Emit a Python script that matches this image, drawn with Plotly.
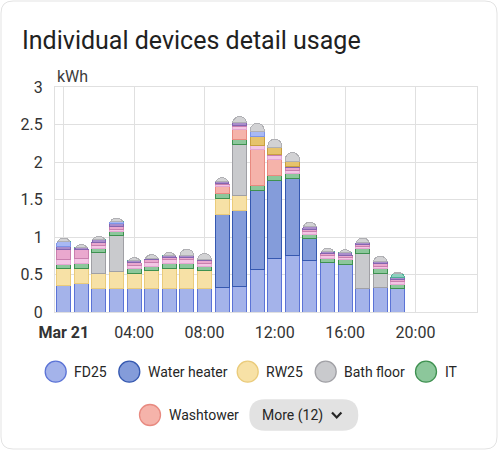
import plotly.graph_objects as go

# ---------------- data ----------------
hours = list(range(20))
tick_vals = [0, 4, 8, 12, 16, 20]
tick_text = ["<b>Mar 21</b>", "04:00", "08:00", "12:00", "16:00", "20:00"]
y_tick_vals = [0, 0.5, 1, 1.5, 2, 2.5, 3]
y_tick_text = ["0", "0.5", "1", "1.5", "2", "2.5", "3"]

fd25 = [0.355, 0.377, 0.32, 0.32, 0.31, 0.32, 0.32, 0.32, 0.31, 0.33,
        0.34, 0.57, 0.72, 0.76, 0.69, 0.665, 0.64, 0.31, 0.33, 0.31]
water_heater = [0, 0, 0, 0, 0, 0, 0, 0, 0, 0.97,
                1.02, 1.045, 1.03, 1.025, 0.284, 0, 0, 0, 0, 0]
rw25 = [0.222, 0.209, 0.20, 0.222, 0.21, 0.23, 0.266, 0.266, 0.24, 0.209,
        0.187, 0, 0, 0, 0, 0, 0, 0, 0, 0]
bath_floor = [0, 0, 0.275, 0.475, 0, 0, 0, 0, 0, 0,
              0.69, 0, 0, 0, 0, 0, 0, 0.476, 0.19, 0]
it = [0.063, 0.067, 0.058, 0.058, 0.066, 0.06, 0.067, 0.067, 0.06, 0.071,
      0.066, 0.067, 0.068, 0.067, 0.058, 0.053, 0.058, 0.057, 0.058, 0.053]
washtower = [0, 0, 0, 0, 0, 0, 0, 0, 0, 0.089,
             0.134, 0.489, 0.222, 0, 0, 0, 0, 0, 0, 0]
# hidden "More (12)" devices
dev_lpink = [0.066, 0.067, 0.03, 0.03, 0.04, 0.05, 0.047, 0.047, 0.043, 0.03,
             0.035, 0.05, 0.045, 0.04, 0.035, 0.035, 0.035, 0.03, 0.035, 0.04]
dev_mauve = [0.134, 0.12, 0.05, 0.04, 0.03, 0.04, 0.033, 0.03, 0.031, 0.02,
             0.02, 0, 0.02, 0.03, 0.03, 0.025, 0.025, 0.03, 0.03, 0.025]
dev_purple = [0.035, 0.026, 0.03, 0.04, 0.03, 0.02, 0.02, 0.02, 0.022, 0.025,
              0.03, 0, 0, 0.02, 0.04, 0.03, 0.03, 0.03, 0.03, 0.03]
dev_gold = [0, 0, 0, 0, 0, 0, 0, 0, 0, 0,
            0, 0.12, 0.09, 0.06, 0, 0, 0, 0, 0, 0]
dev_lblue = [0.065, 0, 0, 0.02, 0, 0, 0, 0, 0, 0,
             0, 0.06, 0, 0, 0, 0, 0, 0, 0, 0]
dev_teal = [0, 0, 0, 0, 0, 0, 0, 0, 0, 0,
            0, 0, 0, 0, 0, 0, 0, 0, 0, 0.05]
dev_gray = [0.046, 0.035, 0.047, 0.048, 0.04, 0.044, 0.042, 0.09, 0.071, 0.045,
            0.084, 0.115, 0.11, 0.125, 0.06, 0.043, 0.043, 0.053, 0.069, 0.024]

series = [
    ("FD25", fd25, "#A4B3EA", "#5B73D6"),
    ("Water heater", water_heater, "#849CDA", "#3558B0"),
    ("RW25", rw25, "#F7E1A6", "#EACB7A"),
    ("Bath floor", bath_floor, "#C9CACD", "#A0A0A5"),
    ("IT", it, "#8CC79B", "#3E9150"),
    ("Washtower", washtower, "#F5B3AA", "#E88A80"),
    ("Device 7", dev_lpink, "#F3C6E4", "#E4A6D2"),
    ("Device 8", dev_mauve, "#EAA8CE", "#C97FAE"),
    ("Device 9", dev_purple, "#A98DCB", "#8466B0"),
    ("Device 10", dev_gold, "#E6C36C", "#C9A040"),
    ("Device 11", dev_lblue, "#A8B9F4", "#7D94E8"),
    ("Device 12", dev_teal, "#8ED0BF", "#4FAE97"),
    ("Device 13", dev_gray, "#D2D2D4", "#B0B0B4"),
]

W, H = 498, 450
L, R, T, B = 55, 21, 87, 138
PW, PH = W - L - R, H - T - B

def px(x):
    return (x - L) / PW

def py(y):
    return (H - B - y) / PH

fig = go.Figure()
for name, vals, fill, line in series:
    fig.add_trace(go.Bar(
        x=hours, y=vals, name=name, width=0.8,
        marker=dict(color=fill, line=dict(color=line, width=1)),
        showlegend=False, hoverinfo="skip",
    ))

font = "Roboto, sans-serif"
shapes = []
annotations = []

# card border
r = 12
x0, y0, x1, y1 = 1, 1, 497, 449
card = (f"M {px(x0+r)},{py(y0)} L {px(x1-r)},{py(y0)} Q {px(x1)},{py(y0)} {px(x1)},{py(y0+r)} "
        f"L {px(x1)},{py(y1-r)} Q {px(x1)},{py(y1)} {px(x1-r)},{py(y1)} "
        f"L {px(x0+r)},{py(y1)} Q {px(x0)},{py(y1)} {px(x0)},{py(y1-r)} "
        f"L {px(x0)},{py(y0+r)} Q {px(x0)},{py(y0)} {px(x0+r)},{py(y0)} Z")
shapes.append(dict(type="path", xref="paper", yref="paper", path=card,
                   line=dict(color="#E3E3E3", width=1), layer="below"))

# title
annotations.append(dict(text="Individual devices detail usage", xref="paper", yref="paper",
                        x=px(20), y=py(40), xanchor="left", yanchor="middle", showarrow=False,
                        font=dict(family=font, size=25, color="#212121")))
# unit
annotations.append(dict(text="kWh", xref="paper", yref="paper",
                        x=px(55), y=py(76.5), xanchor="left", yanchor="middle", showarrow=False,
                        font=dict(family=font, size=16, color="#3c3c3c")))

# legend (manual)
legend_items = [
    (0, 55.7, 371.7), (1, 129.3, 371.7), (2, 247.7, 371.7), (3, 325.7, 371.7),
    (4, 426, 371.7), (5, 150, 415),
]
rad = 10.5
for idx, cx, cy in legend_items:
    name, _, fill, line = series[idx]
    shapes.append(dict(type="circle", xref="paper", yref="paper",
                       x0=px(cx - rad), x1=px(cx + rad), y0=py(cy + rad), y1=py(cy - rad),
                       fillcolor=fill, line=dict(color=line, width=1.3)))
    annotations.append(dict(text=name, xref="paper", yref="paper",
                            x=px(cx + 16.5), y=py(cy), xanchor="left", yanchor="middle",
                            showarrow=False, font=dict(family=font, size=14, color="#262626")))

# "More (12)" pill
bx0, by0, bx1, by1, br = 249.3, 399.3, 358.3, 430.7, 15.7
pill = (f"M {px(bx0+br)},{py(by0)} L {px(bx1-br)},{py(by0)} Q {px(bx1)},{py(by0)} {px(bx1)},{py(by0+br)} "
        f"Q {px(bx1)},{py(by1)} {px(bx1-br)},{py(by1)} L {px(bx0+br)},{py(by1)} "
        f"Q {px(bx0)},{py(by1)} {px(bx0)},{py(by0+br)} Q {px(bx0)},{py(by0)} {px(bx0+br)},{py(by0)} Z")
shapes.append(dict(type="path", xref="paper", yref="paper", path=pill,
                   fillcolor="#E2E2E2", line=dict(width=0)))
annotations.append(dict(text="More (12)", xref="paper", yref="paper",
                        x=px(260), y=py(415), xanchor="left", yanchor="middle", showarrow=False,
                        font=dict(family=font, size=14, color="#262626")))
chev = f"M {px(332)},{py(412.5)} L {px(336.7)},{py(417.5)} L {px(341.4)},{py(412.5)}"
shapes.append(dict(type="path", xref="paper", yref="paper", path=chev,
                   line=dict(color="#262626", width=2.2)))

fig.update_layout(
    width=W, height=H,
    margin=dict(l=L, r=R, t=T, b=B),
    barmode="stack", bargap=0.2, barcornerradius=7,
    paper_bgcolor="white", plot_bgcolor="white",
    font=dict(family=font, color="#3c3c3c"),
    shapes=shapes, annotations=annotations,
    xaxis=dict(range=[-0.5, 23.5], tickvals=tick_vals, ticktext=tick_text,
               showgrid=True, gridcolor="#E0E0E0", gridwidth=1, zeroline=False,
               showline=True, linecolor="#E0E0E0", mirror=True,
               ticks="", ticklabelstandoff=6, tickfont=dict(size=16, color="#333333"),
               fixedrange=True),
    yaxis=dict(range=[0, 3], tickvals=y_tick_vals, ticktext=y_tick_text,
               showgrid=True, gridcolor="#E0E0E0", gridwidth=1, zeroline=False,
               showline=True, linecolor="#E0E0E0", mirror=True,
               ticks="", ticklabelstandoff=8, tickfont=dict(size=16, color="#333333"),
               fixedrange=True),
)

fig.write_html("out.html", config={"displayModeBar": False},
               post_script="document.body.style.margin='0';")
